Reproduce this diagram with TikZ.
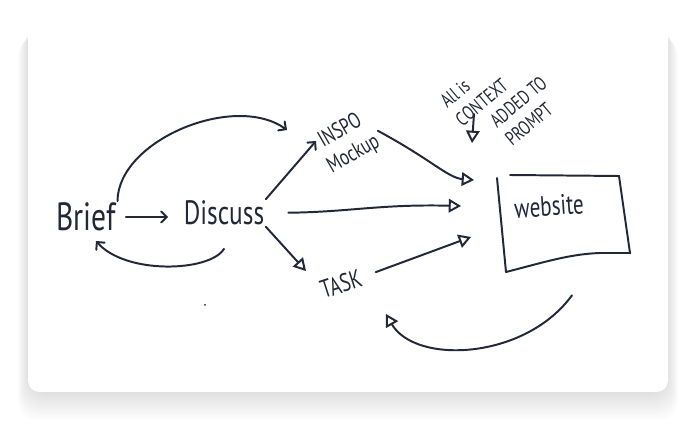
\documentclass[tikz,border=0pt]{standalone}
\usepackage{fontspec}
\newfontfamily\handfont[FakeStretch=0.75]{PT Sans}
\usetikzlibrary{arrows}
\definecolor{ink}{RGB}{35,40,56}

\begin{document}
\begin{tikzpicture}[x=0.025cm,y=-0.025cm,
    pen/.style={draw=ink,line width=1.4pt,line cap=round},
    hand/.style={text=ink,font=\handfont\fontsize{#1pt}{#1pt}\selectfont,align=left,inner sep=1pt},
    tri/.style={-open triangle 60},
    chev/.style={-angle 90}]
\useasboundingbox (0,0) rectangle (700,432);
\foreach \s in {1,...,10}
  \fill[black,opacity=0.012,rounded corners=14] (28-\s,22+1.5*\s) rectangle (668+\s,392+2.8*\s);
\fill[white,rounded corners=8] (28,20) rectangle (668,392);

\node[hand=28] (brief) at (86,217) {Brief};
\node[hand=24] (discuss) at (224,213) {Discuss};
\node[hand=16,rotate=30,align=center] (inspo) at (347,143) {INSPO\\[3pt]Mockup};
\node[hand=18,rotate=18] (task) at (341,284) {TASK};
\node[minimum width=3.35cm,minimum height=2.4cm] (site) at (564,223) {};
\node[hand=20,rotate=4] (sitetext) at (549,206) {website};
\node[hand=14,rotate=40] (context) at (474,93) {All is\\[3pt]CONTEXT};
\node[hand=14,rotate=40] (prompt) at (526,111) {ADDED TO\\[3pt]PROMPT};

\draw[pen] (497,178) -- (506,272);
\draw[pen] (510,175) -- (619,176) -- (630,253) -- (600,253) .. controls (570,254) and (545,262) .. (506,272);

\coordinate (inspotip) at (287,130);
\coordinate (inspoin) at (316,141);
\coordinate (tasktop) at (306,271);
\coordinate (briefback) at (96,241);
\coordinate (sitein1) at (474,180);
\coordinate (sitein2) at (461,206);
\coordinate (sitein3) at (471,237);
\coordinate (tasktip) at (386,314);
\coordinate (ctxfrom) at (474,114);
\coordinate (ctxto) at (472,143);

\draw[pen,chev] (brief.north east) .. controls (118,140) and (235,92) .. (inspotip);
\draw[pen,chev,shorten <=6pt,shorten >=10pt] (brief.east) -- (brief.east -| discuss.west);
\draw[pen,chev] ([shift={(0,22)}]discuss.south) .. controls (210,272) and (125,275) .. (briefback);
\draw[pen,chev] (discuss.north east) -- (inspoin);
\draw[pen,tri,shorten <=16pt] (discuss.east) .. controls (350,212) and (380,204) .. (sitein2);
\draw[pen,tri] (discuss.south east) -- (tasktop);
\draw[pen,tri,shorten <=4pt] (inspo.east) .. controls (432,160) and (448,178) .. (sitein1);
\draw[pen,tri,shorten <=10pt] (task.east) -- (sitein3);
\draw[pen,tri] ([shift={(8,24)}]site.south) .. controls (525,360) and (415,365) .. (tasktip);
\draw[pen,tri] (ctxfrom) -- (ctxto);

\fill[ink] (205,305) circle (1);
\end{tikzpicture}
\end{document}
